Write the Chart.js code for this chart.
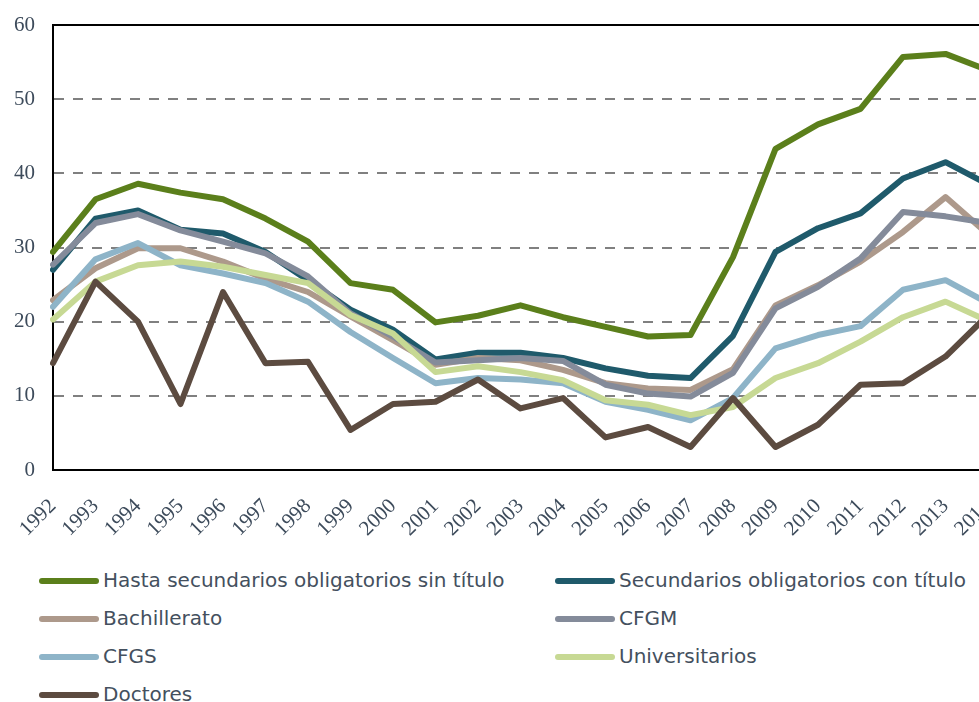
<!DOCTYPE html>
<html>
<head>
<meta charset="utf-8">
<script src="https://cdn.jsdelivr.net/npm/chart.js@4.4.1/dist/chart.umd.min.js"></script>
<style>
  html, body { margin: 0; padding: 0; background: #fff; overflow: hidden; width: 979px; height: 702px; }
  #wrap { position: absolute; left: 0; top: 0; width: 1000px; height: 540px; }
  #legend { position: absolute; left: 0; top: 561px; width: 979px; font-family: "DejaVu Sans", sans-serif; font-size: 20px; color: #44505e; }
  .item { position: absolute; height: 38px; line-height: 38px; white-space: nowrap; }
  .swatch { display: inline-block; width: 60px; height: 6px; border-radius: 3px; vertical-align: middle; margin-right: 4px; position: relative; top: -1px; }
</style>
</head>
<body>
<div id="wrap"><canvas id="chart"></canvas></div>
<div id="legend"></div>
<script>
const years = ['1992','1993','1994','1995','1996','1997','1998','1999','2000','2001','2002','2003',
               '2004','2005','2006','2007','2008','2009','2010','2011','2012','2013','2014'];

const seriesNames = ['Hasta secundarios obligatorios sin título', 'Secundarios obligatorios con título',
                     'Bachillerato', 'CFGM', 'CFGS', 'Universitarios', 'Doctores'];
const seriesColors = ['#5b7f1b', '#1f5a6b', '#ad998b', '#848b9a', '#8eb4c8', '#c7d994', '#5c4b40'];

const hastaSinTitulo = [29.4, 36.5, 38.6, 37.4, 36.5, 33.9, 30.8, 25.2, 24.3, 19.9, 20.8, 22.2,
                        20.6, 19.3, 18.0, 18.2, 28.7, 43.3, 46.6, 48.7, 55.7, 56.1, 53.9];
const secConTitulo   = [27.0, 33.9, 35.0, 32.4, 31.9, 29.4, 25.6, 21.6, 18.9, 14.9, 15.8, 15.8,
                        15.1, 13.7, 12.7, 12.4, 18.1, 29.4, 32.6, 34.6, 39.3, 41.5, 38.5];
const bachillerato   = [22.9, 27.2, 29.9, 29.9, 28.1, 25.8, 24.0, 20.7, 17.5, 14.2, 15.1, 14.8,
                        13.5, 11.7, 11.0, 10.8, 13.6, 22.2, 24.9, 28.1, 32.1, 36.8, 31.8];
const cfgm           = [27.7, 33.3, 34.5, 32.3, 30.8, 29.2, 26.1, 21.1, 18.0, 14.5, 14.8, 15.1,
                        14.7, 11.5, 10.3,  9.9, 13.1, 21.8, 24.7, 28.5, 34.8, 34.2, 33.3];
const cfgs           = [22.0, 28.4, 30.6, 27.6, 26.5, 25.2, 22.7, 18.6, 15.1, 11.7, 12.4, 12.2,
                        11.7,  9.2,  8.1,  6.7,  9.7, 16.4, 18.2, 19.4, 24.3, 25.6, 22.5];
const universitarios = [20.3, 25.4, 27.6, 28.1, 27.4, 26.3, 25.2, 20.9, 18.4, 13.2, 14.0, 13.2,
                        12.1,  9.4,  8.8,  7.4,  8.5, 12.4, 14.4, 17.3, 20.6, 22.7, 20.1];
const doctores       = [14.4, 25.4, 20.0,  8.9, 24.0, 14.4, 14.6,  5.4,  8.9,  9.2, 12.2,  8.3,
                         9.7,  4.4,  5.8,  3.1,  9.7,  3.1,  6.1, 11.5, 11.7, 15.3, 20.9];

const yTicks = [0, 10, 20, 30, 40, 50, 60];

const allSeries = [hastaSinTitulo, secConTitulo, bachillerato, cfgm, cfgs, universitarios, doctores];

const datasets = allSeries.map((vals, i) => ({
  label: seriesNames[i],
  data: vals,
  borderColor: seriesColors[i],
  backgroundColor: seriesColors[i],
  borderWidth: 6,
  pointRadius: 0,
  tension: 0,
  borderJoinStyle: 'round',
  borderCapStyle: 'round',
  order: allSeries.length - i
}));

const topBorder = {
  id: 'topBorder',
  afterDatasetsDraw(chart) {
    const a = chart.chartArea, ctx = chart.ctx;
    ctx.save();
    ctx.strokeStyle = '#000';
    ctx.lineWidth = 2;
    ctx.beginPath();
    ctx.moveTo(a.left - 1, a.top);
    ctx.lineTo(a.right + 20, a.top);
    ctx.stroke();
    ctx.restore();
  }
};

const tickFont = { family: '"Liberation Serif", serif', size: 21 };

new Chart(document.getElementById('chart'), {
  type: 'line',
  data: { labels: years, datasets: datasets },
  options: {
    responsive: true,
    maintainAspectRatio: false,
    animation: false,
    layout: { padding: { top: 25, left: 0, right: 12, bottom: 0 } },
    plugins: { legend: { display: false }, tooltip: { enabled: false } },
    scales: {
      x: {
        offset: false,
        grid: { display: false, drawTicks: false },
        border: { display: true, color: '#000', width: 2 },
        ticks: { color: '#3d4b5b', font: tickFont, maxRotation: 45, minRotation: 45, autoSkip: false, padding: 24 },
        afterFit(scale) {
          scale.height = 70;
          scale.paddingLeft = 0;
          scale.paddingRight = 0;
        }
      },
      y: {
        min: 0, max: 60,
        afterBuildTicks(scale) { scale.ticks = yTicks.map(v => ({ value: v })); },
        grid: { color: '#808080', lineWidth: 2, drawTicks: false },
        border: { display: true, color: '#000', width: 2, dash: [10, 9] },
        ticks: { color: '#3d4b5b', font: tickFont, padding: 18 },
        afterFit(scale) {
          scale.width = 53;
          scale.paddingTop = 0;
          scale.paddingBottom = 0;
        }
      }
    }
  },
  plugins: [topBorder]
});

// legend, two columns
const legend = document.getElementById('legend');
const colX = [39, 555];
seriesNames.forEach((name, i) => {
  const el = document.createElement('div');
  el.className = 'item';
  el.style.left = colX[i % 2] + 'px';
  el.style.top = (Math.floor(i / 2) * 38) + 'px';
  el.innerHTML = '<span class="swatch" style="background:' + seriesColors[i] + '"></span>' + name;
  legend.appendChild(el);
});
</script>
</body>
</html>
